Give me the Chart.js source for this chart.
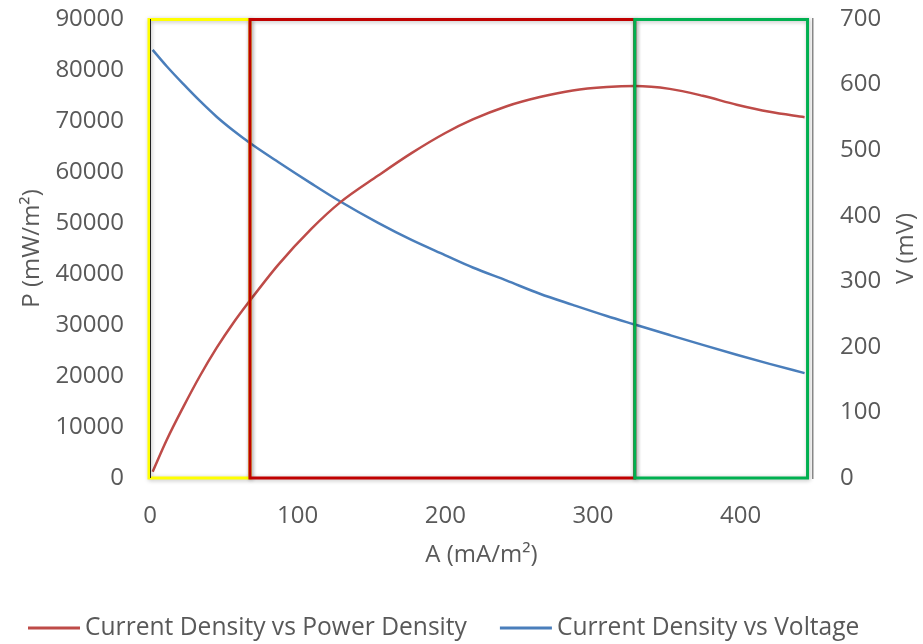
<!DOCTYPE html>
<html>
<head>
<meta charset="utf-8">
<script src="https://cdn.jsdelivr.net/npm/chart.js@4/dist/chart.umd.min.js"></script>
<style>
  html, body { margin: 0; padding: 0; background: #fff; }
  #wrap { width: 923px; height: 644px; }
</style>
</head>
<body>
<div id="wrap"><canvas id="c" width="923" height="644"></canvas></div>
<script>
// ---- data ----
const currentDensity = [1.8, 11.3, 22.5, 33.8, 45.1, 56.4, 67.7, 86.8, 109.4, 128.6, 154.5, 177.1, 199.7, 218.6, 241.6, 264, 286.3, 309.3, 328.3, 351.9, 374.3, 397.3, 419.6, 443.3];
const powerDensity   = [1235, 7450, 13900, 20000, 25500, 30400, 34800, 41800, 48900, 54000, 59300, 63700, 67600, 70300, 72900, 74700, 76000, 76650, 76850, 76300, 74950, 73200, 71800, 70750];
const voltage        = [653, 628, 601, 575, 551, 530, 511, 482, 449, 422, 389, 363, 340, 321, 301, 281, 264, 247, 234, 218, 203, 188, 174, 160];
const seriesNames    = ['Current Density vs Power Density', 'Current Density vs Voltage'];
const seriesColors   = ['#BE4B48', '#4A7EBB'];
const axisTitles     = { x: 'A (mA/m²)', y: 'P (mW/m²)', y1: 'V (mV)' };
const regionBounds   = [0, 67.7, 328.3, 445.3];   // x-values (mA/m²) bounding the three zones
const regionColors   = ['#FFFF00', '#C00000', '#00B050'];

const toPoints = (xs, ys) => xs.map((x, i) => ({ x, y: ys[i] }));
const FONT = "'Open Sans', sans-serif";
const TEXT = '#595959';

Chart.defaults.font.family = FONT;
Chart.defaults.font.size = 24;
Chart.defaults.color = TEXT;

const regionPlugin = {
  id: 'regions',
  afterDatasetsDraw(chart) {
    const { ctx, chartArea, scales } = chart;
    const xs = scales.x;
    ctx.save();
    ctx.lineWidth = 3;
    ctx.shadowColor = 'rgba(0,0,0,0.28)';
    ctx.shadowBlur = 4;
    ctx.shadowOffsetX = 1;
    ctx.shadowOffsetY = 1;
    for (let i = 0; i < regionColors.length; i++) {
      const l = xs.getPixelForValue(regionBounds[i]) - (i === 0 ? 1 : 0);
      const r = xs.getPixelForValue(regionBounds[i + 1]);
      ctx.strokeStyle = regionColors[i];
      ctx.strokeRect(l, chartArea.top + 0.5, r - l, chartArea.bottom - chartArea.top - 0.5);
    }
    ctx.restore();
    ctx.save();
    ctx.strokeStyle = '#222';
    ctx.lineWidth = 1;
    ctx.beginPath();
    ctx.moveTo(chartArea.left + 0.5, chartArea.top);
    ctx.lineTo(chartArea.left + 0.5, chartArea.bottom);
    ctx.stroke();
    ctx.restore();
  }
};

// Excel-style legend and secondary-axis title (rotated like the primary one)
const excelPlugin = {
  id: 'excelBits',
  afterDraw(chart) {
    const { ctx, chartArea, scales } = chart;
    ctx.save();
    ctx.font = '24.6px ' + FONT;
    ctx.textBaseline = 'middle';
    ctx.textAlign = 'left';
    const y = 628;
    const sample = 52, gap = 5, itemGap = 33;
    let x = 28;
    chart.data.datasets.forEach((ds) => {
      ctx.strokeStyle = ds.borderColor;
      ctx.lineWidth = 3;
      ctx.beginPath();
      ctx.moveTo(x, y);
      ctx.lineTo(x + sample, y);
      ctx.stroke();
      x += sample + gap;
      ctx.fillStyle = TEXT;
      ctx.fillText(ds.label, x, y);
      x += ctx.measureText(ds.label).width + itemGap;
    });
    ctx.restore();

    const s = scales.y1;
    ctx.save();
    ctx.font = '24px ' + FONT;
    ctx.fillStyle = TEXT;
    ctx.textAlign = 'center';
    ctx.textBaseline = 'middle';
    ctx.translate(s.right - 17, (chartArea.top + chartArea.bottom) / 2);
    ctx.rotate(-Math.PI / 2);
    ctx.fillText(axisTitles.y1, 0, 0);
    ctx.restore();
  }
};

const fixVertical = (w) => (scale) => { scale.width = w; scale.paddingTop = 14; scale.paddingBottom = 14; };

new Chart(document.getElementById('c'), {
  type: 'scatter',
  data: {
    datasets: [
      {
        label: seriesNames[0],
        data: toPoints(currentDensity, powerDensity),
        yAxisID: 'y',
        showLine: true,
        borderColor: seriesColors[0],
        backgroundColor: seriesColors[0],
        borderWidth: 2.5,
        pointRadius: 0,
        cubicInterpolationMode: 'monotone'
      },
      {
        label: seriesNames[1],
        data: toPoints(currentDensity, voltage),
        yAxisID: 'y1',
        showLine: true,
        borderColor: seriesColors[1],
        backgroundColor: seriesColors[1],
        borderWidth: 2.5,
        pointRadius: 0,
        cubicInterpolationMode: 'monotone'
      }
    ]
  },
  options: {
    responsive: false,
    animation: false,
    events: [],
    layout: { padding: { top: 19, left: 0, right: 0, bottom: 0 } },
    plugins: {
      tooltip: { enabled: false },
      legend: { display: false }
    },
    scales: {
      x: {
        type: 'linear',
        position: 'bottom',
        min: 0,
        max: 449,
        grid: { display: false, drawTicks: false },
        border: { display: false },
        ticks: { stepSize: 100, includeBounds: false, padding: 24, callback: v => String(v) },
        title: { display: true, text: axisTitles.x, padding: { top: 0, bottom: 74.6 } },
        afterFit(scale) { scale.height = 166; }
      },
      y: {
        type: 'linear',
        position: 'left',
        min: 0,
        max: 90000,
        grid: { display: false, drawTicks: false },
        border: { display: true, color: '#222', width: 1 },
        ticks: { stepSize: 10000, padding: 26, callback: v => String(v) },
        title: { display: true, text: axisTitles.y, padding: { top: 17.6, bottom: 0 } },
        afterFit: fixVertical(150)
      },
      y1: {
        type: 'linear',
        position: 'right',
        min: 0,
        max: 700,
        grid: { display: false, drawTicks: false },
        border: { display: true, color: '#8C8C8C', width: 1.5 },
        ticks: { stepSize: 100, padding: 27, callback: v => String(v) },
        title: { display: false },
        afterFit: fixVertical(110)
      }
    }
  },
  plugins: [regionPlugin, excelPlugin]
});
</script>
</body>
</html>
